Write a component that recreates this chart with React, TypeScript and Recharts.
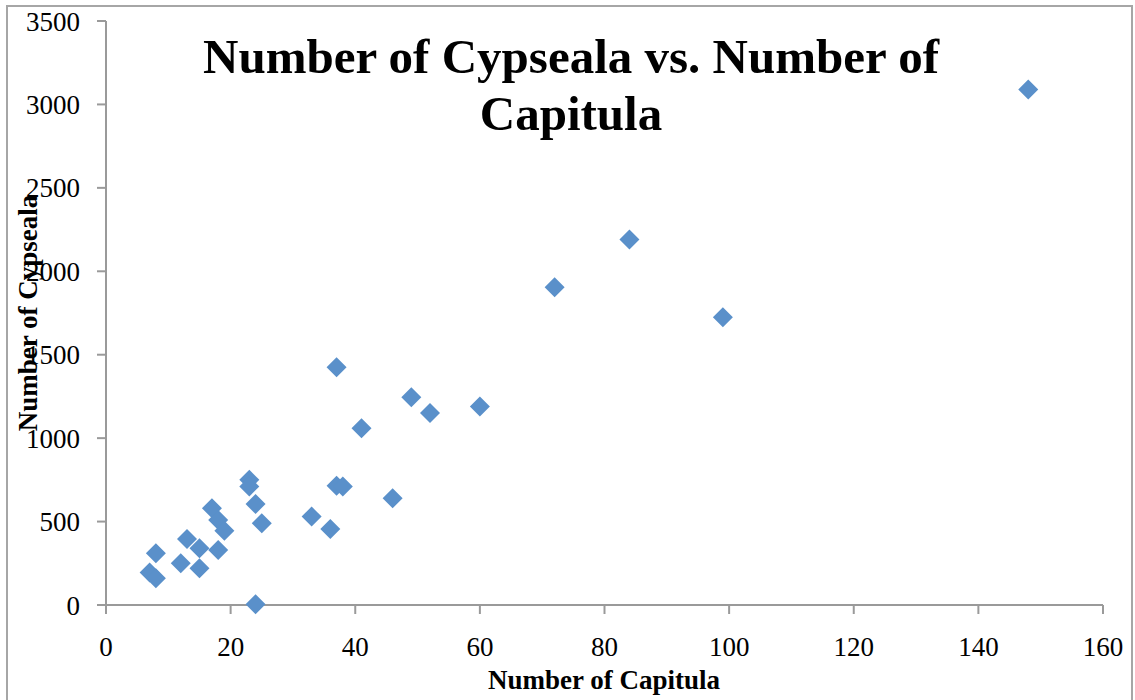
import { ScatterChart, Scatter, XAxis, YAxis } from "recharts";

// Number of capitula per plant (x) and number of cypseala (y)
const capitula = [
  148, 84, 72, 99, 37, 49, 52, 60, 41, 37, 38, 46, 33, 36,
  7, 8, 8, 12, 13, 15, 15, 17, 18, 18, 19, 23, 23, 24, 25, 24,
];
const cypseala = [
  3090, 2190, 1905, 1725, 1425, 1245, 1150, 1190, 1060, 715, 710, 640, 530, 455,
  195, 160, 310, 250, 395, 340, 220, 580, 510, 330, 445, 750, 710, 605, 490, 5,
];
const xTicks = [0, 20, 40, 60, 80, 100, 120, 140, 160];
const yTicks = [0, 500, 1000, 1500, 2000, 2500, 3000, 3500];

const points = capitula.map((x, i) => ({ x, y: cypseala[i] }));

const FONT = '"Liberation Serif", "DejaVu Serif", serif';
const AXIS = "#9a9a9a";
const MARKER = "#5a90ca";

function Diamond(props: any) {
  const { cx, cy } = props;
  const r = 10;
  return (
    <polygon
      points={`${cx},${cy - r} ${cx + r},${cy} ${cx},${cy + r} ${cx - r},${cy}`}
      fill={MARKER}
    />
  );
}

export default function App() {
  const tick = { fontSize: 27, fill: "#000", fontFamily: FONT };
  return (
    <div
      style={{
        position: "absolute",
        left: 0,
        top: 0,
        width: 1135,
        height: 700,
        overflow: "hidden",
        background: "#fff",
        fontFamily: FONT,
      }}
    >
      <div
        style={{
          position: "absolute",
          left: 6,
          top: 5,
          width: 1127,
          height: 720,
          border: "2px solid #a6a6a6",
          boxSizing: "border-box",
        }}
      />
      <ScatterChart
        width={1135}
        height={700}
        margin={{ top: 21, right: 32, bottom: 35, left: 46 }}
        style={{ position: "absolute", left: 0, top: 0 }}
      >
        <XAxis
          type="number"
          dataKey="x"
          domain={[0, 160]}
          ticks={xTicks}
          interval={0}
          height={60}
          tick={tick}
          tickSize={9}
          tickMargin={23}
          stroke={AXIS}
          strokeWidth={2}
        />
        <YAxis
          type="number"
          dataKey="y"
          domain={[0, 3500]}
          ticks={yTicks}
          interval={0}
          width={60}
          tick={tick}
          tickSize={9}
          tickMargin={17}
          stroke={AXIS}
          strokeWidth={2}
        />
        <Scatter data={points} shape={<Diamond />} isAnimationActive={false} />
      </ScatterChart>

      <div
        style={{
          position: "absolute",
          left: 571,
          top: 28,
          transform: "translateX(-50%)",
          fontSize: 49,
          lineHeight: "57px",
          fontWeight: 700,
          textAlign: "center",
          whiteSpace: "nowrap",
        }}
      >
        Number of Cypseala vs. Number of
        <br />
        Capitula
      </div>

      <div
        style={{
          position: "absolute",
          left: 604,
          top: 667,
          transform: "translateX(-50%)",
          fontSize: 27,
          lineHeight: "27px",
          fontWeight: 700,
          whiteSpace: "nowrap",
        }}
      >
        Number of Capitula
      </div>

      <div
        style={{
          position: "absolute",
          left: 28,
          top: 313,
          transform: "translate(-50%, -50%) rotate(-90deg)",
          fontSize: 27,
          lineHeight: "27px",
          fontWeight: 700,
          whiteSpace: "nowrap",
        }}
      >
        Number of Cypseala
      </div>
    </div>
  );
}
